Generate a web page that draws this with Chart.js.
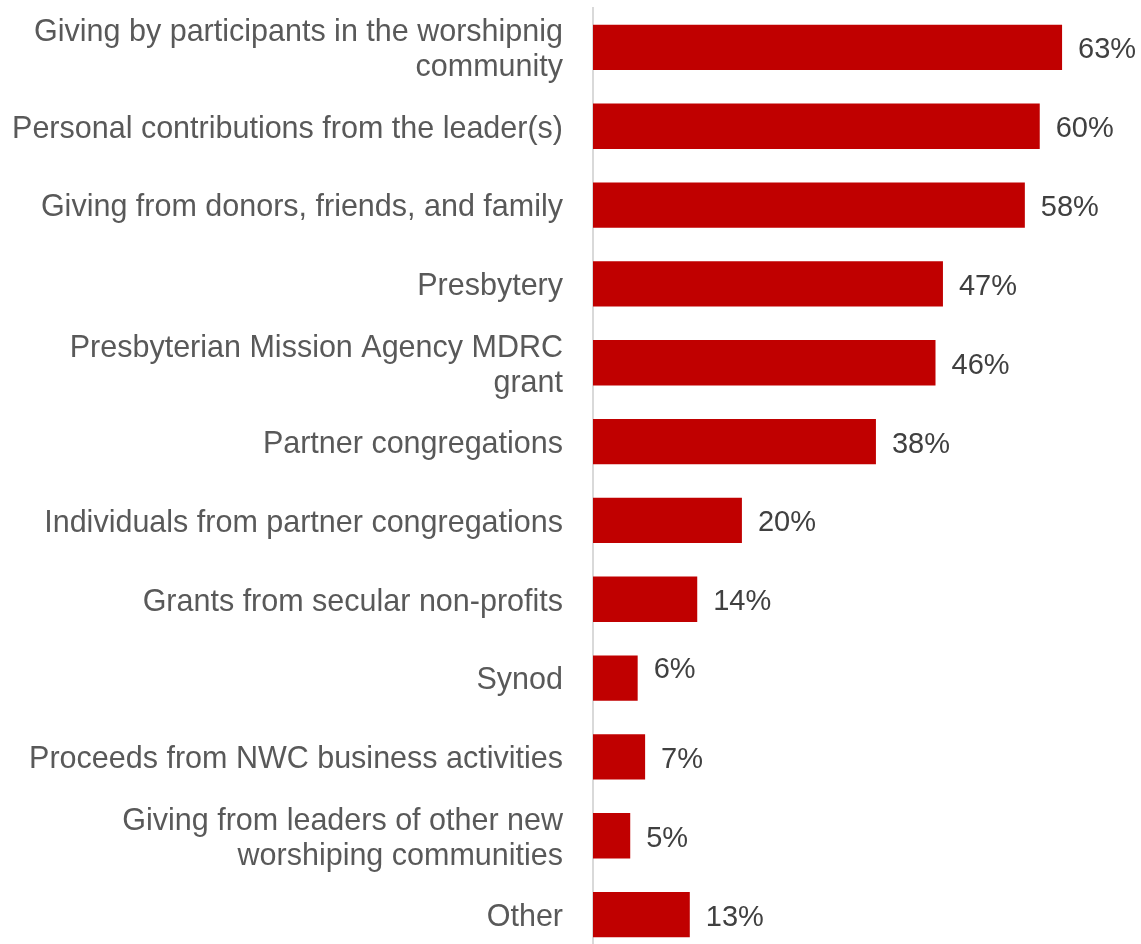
<!DOCTYPE html>
<html>
<head>
<meta charset="utf-8">
<title>Funding sources</title>
<script src="https://cdn.jsdelivr.net/npm/chart.js@4.4.1/dist/chart.umd.min.js"></script>
<style>
  html, body { margin: 0; padding: 0; background: #ffffff; overflow: hidden; }
  #wrap { width: 1141px; height: 954px; }
</style>
</head>
<body>
<div id="wrap"><canvas id="chart" width="1141" height="954"></canvas></div>
<script>
// Funding sources, share of respondents (%)
const categories = [
  ['Giving by participants in the worshipnig', 'community'],
  'Personal contributions from the leader(s)',
  'Giving from donors, friends, and family',
  'Presbytery',
  ['Presbyterian Mission Agency MDRC', 'grant'],
  'Partner congregations',
  'Individuals from partner congregations',
  'Grants from secular non-profits',
  'Synod',
  'Proceeds from NWC business activities',
  ['Giving from leaders of other new', 'worshiping communities'],
  'Other'
];
const shares = [63, 60, 58, 47, 46, 38, 20, 14, 6, 7, 5, 13];

// Writes the percentage just past the end of each bar
const valueLabels = {
  id: 'valueLabels',
  afterDatasetsDraw(chart) {
    const ctx = chart.ctx;
    const meta = chart.getDatasetMeta(0);
    const nudge = { 8: -11 };
    ctx.save();
    ctx.font = '29px "Liberation Sans", Arial, sans-serif';
    ctx.fillStyle = '#404040';
    ctx.textAlign = 'left';
    ctx.textBaseline = 'middle';
    meta.data.forEach((bar, i) => {
      ctx.fillText(shares[i] + '%', bar.x + 16, bar.y + 3 + (nudge[i] || 0));
    });
    ctx.restore();
  }
};

new Chart(document.getElementById('chart'), {
  type: 'bar',
  data: {
    labels: categories,
    datasets: [{
      data: shares,
      backgroundColor: '#C00000',
      borderWidth: 0,
      barPercentage: 0.575,
      categoryPercentage: 1.0
    }]
  },
  options: {
    indexAxis: 'y',
    responsive: false,
    animation: false,
    devicePixelRatio: 1,
    layout: { padding: { top: 8, right: 0, bottom: 0, left: 0 } },
    plugins: {
      legend: { display: false },
      tooltip: { enabled: false }
    },
    scales: {
      x: {
        display: false,
        min: 0,
        max: 73.6
      },
      y: {
        grid: { display: false, drawTicks: false },
        border: { display: true, color: '#d9d9d9', width: 2 },
        ticks: {
          color: '#595959',
          padding: 30,
          labelOffset: 3,
          font: { family: '"Liberation Sans", Arial, sans-serif', size: 30.5, lineHeight: 1.15 }
        },
        afterFit(scale) {
          scale.width = 593;
          scale.paddingTop = 0;
          scale.paddingBottom = 0;
        }
      }
    }
  },
  plugins: [valueLabels]
});
</script>
</body>
</html>
